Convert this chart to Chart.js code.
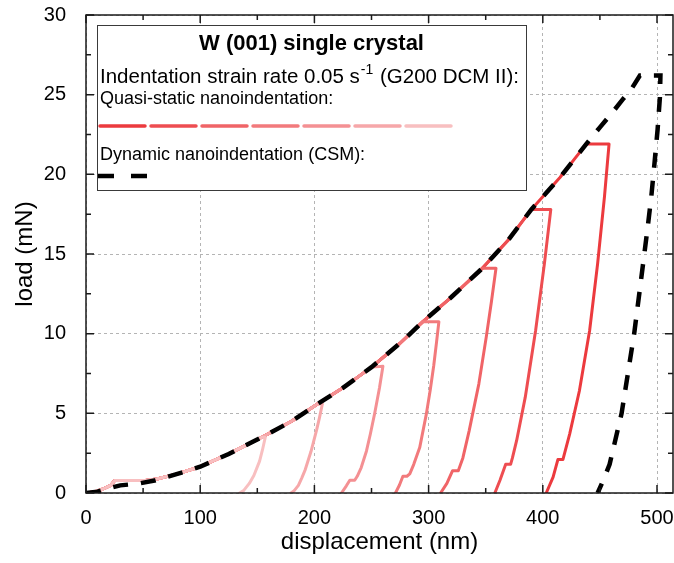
<!DOCTYPE html>
<html>
<head>
<meta charset="utf-8">
<script src="https://cdn.jsdelivr.net/npm/chart.js@4.4.0/dist/chart.umd.min.js"></script>
<style>
html, body { margin: 0; padding: 0; background: #fff; }
</style>
</head>
<body>
<canvas id="chartcanvas" width="674" height="563"></canvas>
<script>
// tick values
var xTicks = [0, 100, 200, 300, 400, 500];
var xMinor = [50, 150, 250, 350, 450];
var yTicks = [0, 5, 10, 15, 20, 25, 30];
var yMinor = [2.5, 7.5, 12.5, 17.5, 22.5, 27.5];

// shared loading path of the quasi-static tests (nm, mN)
var loadDisp  = [0, 8, 15, 22, 25, 40, 52, 62, 80, 100, 125, 154, 180, 203, 225, 250, 275, 295, 320, 347, 370, 390, 415, 438];
var loadForce = [0, 0.08, 0.25, 0.5, 0.78, 0.78, 0.78, 0.88, 1.2, 1.65, 2.45, 3.5, 4.5, 5.6, 6.6, 7.9, 9.4, 10.75, 12.3, 14.1, 15.9, 17.8, 19.8, 21.9];

// hold end + unloading of each quasi-static test (smallest to largest)
var qs1Disp = [157, 154.5, 152, 147, 143, 138, 134.5];
var qs1Load = [3.5, 2.7, 2.0, 1.1, 0.6, 0.15, 0];
var qs2Disp = [207, 204.5, 202, 199, 197, 192, 189, 186, 182, 179.5];
var qs2Load = [5.6, 4.75, 3.98, 3.15, 2.6, 1.47, 0.95, 0.48, 0.12, 0];
var qs3Disp = [260, 257, 252.8, 249, 245.6, 241, 237.5, 235.3, 231, 228, 223.7];
var qs3Load = [7.95, 6.6, 5.0, 3.7, 2.64, 1.6, 1.05, 0.8, 0.8, 0.45, 0];
var qs4Disp = [309, 307, 304.5, 301.5, 298, 292.2, 287, 283.5, 281, 277.5, 274.5, 271];
var qs4Load = [10.75, 9.5, 8.0, 6.5, 4.95, 2.85, 1.8, 1.2, 1.05, 1.05, 0.5, 0];
var qs5Disp = [359, 355, 350.5, 344, 335.5, 330, 326, 321, 316, 310.5];
var qs5Load = [14.1, 12.0, 9.8, 6.85, 3.9, 2.2, 1.4, 1.4, 0.6, 0];
var qs6Disp = [407, 401.4, 393.7, 384.6, 377.1, 373.4, 371.8, 367.5, 362.5, 358];
var qs6Load = [17.8, 14.4, 10.2, 6.0, 3.3, 2.2, 1.8, 1.8, 0.8, 0];
var qs7Disp = [458, 454, 448, 441, 432, 423.5, 417.6, 413.2, 409, 403];
var qs7Load = [21.9, 18.6, 14.4, 10.2, 6.4, 3.7, 2.1, 2.1, 1.0, 0];

// CSM test
var csmDisp = [0, 10, 20, 30, 45, 60, 80, 100, 125, 154, 180, 203, 225, 250, 275, 295, 320, 347, 370, 390, 415, 438, 450, 460, 470, 478, 485, 503, 502.5, 500.5, 497.8, 495, 491.7, 485, 480, 469, 458.5, 453, 448];
var csmLoad = [0, 0.08, 0.3, 0.48, 0.58, 0.78, 1.2, 1.65, 2.45, 3.5, 4.5, 5.6, 6.6, 7.9, 9.4, 10.75, 12.3, 14.1, 15.9, 17.8, 19.8, 21.9, 22.95, 23.8, 24.7, 25.4, 26.2, 26.2, 24.8, 22.8, 20.7, 18.6, 16.6, 12.8, 10, 5, 1.8, 0.8, 0];

// colours, lightest (smallest test) to darkest (largest test)
var qsColors = ['#f8bfc0', '#f6a7a9', '#f49093', '#f27a7c', '#f06467', '#ee4d51', '#ec3a3e'];

var fam = '"Liberation Sans", Arial, sans-serif';

function qsPoints(unDisp, unLoad) {
	var pts = [];
	for (var i = 0; i < loadDisp.length; i++) {
		if (loadDisp[i] < unDisp[0]) pts.push({x: loadDisp[i], y: loadForce[i]});
	}
	for (var j = 0; j < unDisp.length; j++) pts.push({x: unDisp[j], y: unLoad[j]});
	return pts;
}

var csmPoints = [];
for (var k = 0; k < csmDisp.length; k++) csmPoints.push({x: csmDisp[k], y: csmLoad[k]});

var qsSets = [[qs1Disp, qs1Load], [qs2Disp, qs2Load], [qs3Disp, qs3Load], [qs4Disp, qs4Load],
	[qs5Disp, qs5Load], [qs6Disp, qs6Load], [qs7Disp, qs7Load]];

var datasets = [{
	label: 'CSM',
	data: csmPoints,
	showLine: true,
	borderColor: '#000',
	borderWidth: 4.5,
	borderDash: [15, 13],
	borderCapStyle: 'butt',
	pointRadius: 0,
	tension: 0
}];
for (var q = 0; q < qsSets.length; q++) {
	datasets.push({
		label: 'QS' + (q + 1),
		data: qsPoints(qsSets[q][0], qsSets[q][1]),
		showLine: true,
		borderColor: qsColors[q],
		borderWidth: 3,
		borderJoinStyle: 'round',
		borderCapStyle: 'round',
		pointRadius: 0,
		tension: 0
	});
}

// frame, inward ticks and the text box
var frameAndBox = {
	id: 'frameAndBox',
	afterDraw: function(chart) {
		var ctx = chart.ctx, a = chart.chartArea;
		var xs = chart.scales.x, ys = chart.scales.y;
		ctx.save();
		ctx.strokeStyle = '#1a1a1a';
		ctx.lineWidth = 1.5;
		ctx.beginPath();
		function xt(v, len) {
			var p = xs.getPixelForValue(v);
			ctx.moveTo(p, a.bottom); ctx.lineTo(p, a.bottom - len);
			ctx.moveTo(p, a.top); ctx.lineTo(p, a.top + len);
		}
		function yt(v, len) {
			var p = ys.getPixelForValue(v);
			ctx.moveTo(a.left, p); ctx.lineTo(a.left + len, p);
			ctx.moveTo(a.right, p); ctx.lineTo(a.right - len, p);
		}
		xTicks.forEach(function(v){ xt(v, 8); });
		xMinor.forEach(function(v){ xt(v, 5); });
		yTicks.forEach(function(v){ yt(v, 8); });
		yMinor.forEach(function(v){ yt(v, 5); });
		ctx.stroke();
		ctx.strokeRect(a.left, a.top, a.right - a.left, a.bottom - a.top);

		// text box
		var bx = a.left + 11, by = a.top + 10, bw = 429, bh = 165;
		ctx.fillStyle = '#fff';
		ctx.fillRect(bx, by, bw, bh);
		ctx.strokeStyle = '#3a3a3a';
		ctx.lineWidth = 1;
		ctx.strokeRect(bx + 0.5, by + 0.5, bw, bh);

		ctx.fillStyle = '#000';
		ctx.textBaseline = 'alphabetic';
		ctx.textAlign = 'center';
		ctx.font = 'bold 22px ' + fam;
		ctx.fillText('W (001) single crystal', bx + bw / 2, by + 25);

		ctx.textAlign = 'left';
		var tx = bx + 3;
		ctx.font = '20.5px ' + fam;
		var s1 = 'Indentation strain rate 0.05 s';
		ctx.fillText(s1, tx, by + 58);
		var w1 = ctx.measureText(s1).width;
		ctx.font = '14px ' + fam;
		ctx.fillText('-1', tx + w1 + 1, by + 49);
		var w2 = ctx.measureText('-1').width;
		ctx.font = '20.5px ' + fam;
		ctx.fillText(' (G200 DCM II):', tx + w1 + w2 + 2, by + 58);

		ctx.font = '18px ' + fam;
		ctx.fillText('Quasi-static nanoindentation:', tx, by + 79);
		ctx.fillText('Dynamic nanoindentation (CSM):', tx, by + 135);

		ctx.lineCap = 'round';
		ctx.lineWidth = 3.5;
		for (var i = 0; i < 7; i++) {
			var x0 = bx + 3 + i * 51;
			ctx.strokeStyle = qsColors[6 - i];
			ctx.beginPath();
			ctx.moveTo(x0, by + 101);
			ctx.lineTo(x0 + 45, by + 101);
			ctx.stroke();
		}
		ctx.lineCap = 'butt';
		ctx.lineWidth = 4.5;
		ctx.strokeStyle = '#000';
		ctx.setLineDash([16, 17]);
		ctx.beginPath();
		ctx.moveTo(bx + 1, by + 151);
		ctx.lineTo(bx + 50, by + 151);
		ctx.stroke();
		ctx.restore();
	}
};

var ctx = document.getElementById('chartcanvas');

new Chart(ctx, {
	type: 'scatter',
	data: { datasets: datasets },
	options: {
		responsive: false,
		animation: false,
		layout: { padding: { top: 15, right: 1, left: 0, bottom: 0 } },
		plugins: { legend: { display: false }, tooltip: { enabled: false } },
		scales: {
			x: {
				type: 'linear', min: 0, max: 514,
				afterBuildTicks: function(s) { s.ticks = xTicks.map(function(v){ return {value: v}; }); },
				afterFit: function(s) { s.height = 70; s.paddingLeft = 0; s.paddingRight = 0; },
				grid: { color: '#b4b4b4', lineWidth: 1, drawTicks: false },
				border: { display: false, dash: [3, 3] },
				ticks: { color: '#000', font: { family: fam, size: 20 }, padding: 13, maxRotation: 0 },
				title: { display: true, text: 'displacement (nm)', color: '#000', font: { family: fam, size: 24 }, padding: { top: 0, bottom: 6 } }
			},
			y: {
				type: 'linear', min: 0, max: 30,
				afterBuildTicks: function(s) { s.ticks = yTicks.map(function(v){ return {value: v}; }); },
				afterFit: function(s) { s.width = 86; s.paddingTop = 0; s.paddingBottom = 0; },
				grid: { color: '#b4b4b4', lineWidth: 1, drawTicks: false },
				border: { display: false, dash: [3, 3] },
				ticks: { color: '#000', font: { family: fam, size: 20 }, padding: 20 },
				title: { display: true, text: 'load (mN)', color: '#000', font: { family: fam, size: 24 }, padding: { top: 11, bottom: 0 } }
			}
		}
	},
	plugins: [frameAndBox]
});
</script>
</body>
</html>
